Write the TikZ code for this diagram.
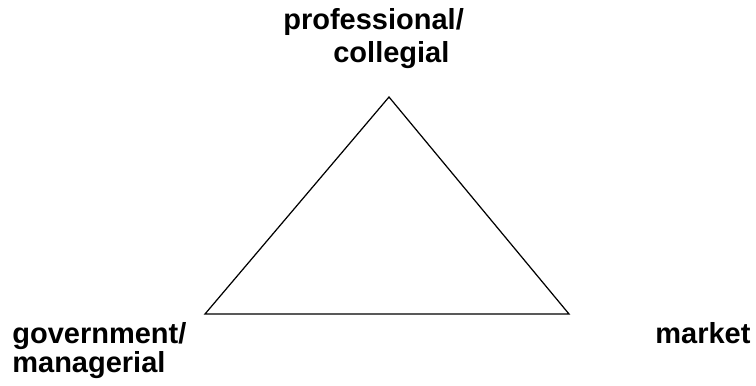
\documentclass[tikz,border=0pt]{standalone}
\usepackage{fontspec}
\setmainfont{Liberation Sans}
\usetikzlibrary{positioning}
\tikzset{
  corner/.style={
    anchor = base west,
    inner sep = 0pt,
    font = \fontsize{16.5}{19}\selectfont\bfseries
  },
  side/.style={
    line width = 0.7pt,
    line join = miter
  }
}

\begin{document}
\begin{tikzpicture}
\useasboundingbox (0,0) rectangle (15.12,7.7);

       \coordinate (top) at (7.78,5.76);
       \coordinate (left) at (4.10,1.42);
       \coordinate (right) at (11.38,1.42);

       \draw[side] (top) -- (left) -- (right) -- cycle;

        \node[corner] (prof) at (5.66,7.10) {professional/};
        \node[corner] (coll) at (6.66,6.44) {collegial};

        \node[corner] (gov) at (0.24,0.84) {government/};
        \node[corner] (man) at (0.24,0.26) {managerial};

        \node[corner] (mark) at (13.10,0.84) {market};

\end{tikzpicture}
\end{document}
